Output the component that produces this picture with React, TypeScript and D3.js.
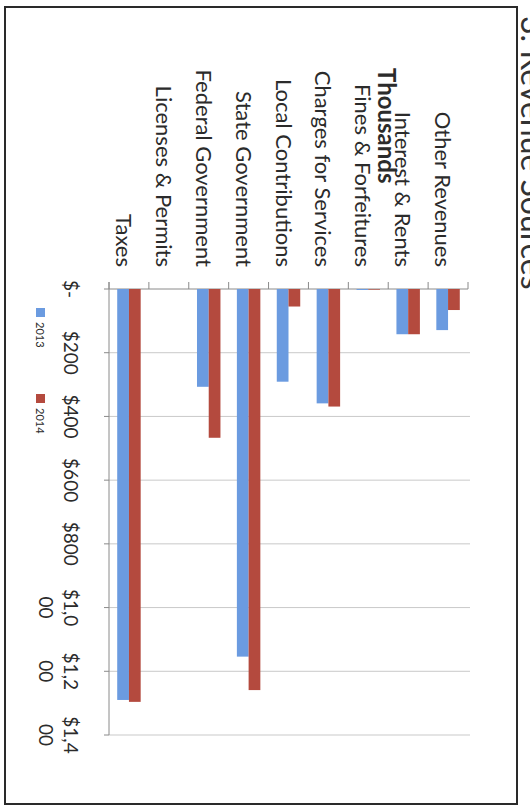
import React from "react";
import * as d3 from "d3";

const categories = [
  "Taxes",
  "Licenses & Permits",
  "Federal Government",
  "State Government",
  "Local Contributions",
  "Charges for Services",
  "Fines & Forfeitures",
  "Interest & Rents",
  "Other Revenues",
];
const series = ["2013", "2014"];
const values2013 = [1290, 0, 307, 1154, 291, 359, 3, 142, 129];
const values2014 = [1296, 0, 467, 1259, 55, 369, 2, 142, 66];
const valueTicks = [0, 200, 400, 600, 800, 1000, 1200, 1400];
const tickLabels = ["$-", "$200", "$400", "$600", "$800", "$1,000", "$1,200", "$1,400"];
const unitLabel = "Thousands";
const titleText = "3. Revenue Sources";

const colors = ["#6b9be0", "#b44a3e"];
const FONT = "Lato, 'Open Sans', sans-serif";

export default function App() {
  const W = 530;
  const H = 807;
  const x0 = 109;
  const x1 = 468;
  const yZero = 289;
  const yMax = 735;

  const x = d3.scaleBand<string>().domain(categories).range([x0, x1]).padding(0);
  const xs = d3
    .scaleBand<string>()
    .domain(series)
    .range([0, x.bandwidth()])
    .paddingInner(0)
    .paddingOuter(0.7);
  const y = d3.scaleLinear().domain([0, 1400]).range([yZero, yMax]);

  const data = [values2013, values2014];
  const boundaries = [...categories.map((c) => x(c) as number), x1];

  return (
    <svg
      width={W}
      height={H}
      style={{ position: "absolute", left: 0, top: 0, background: "#fff" }}
      fontFamily={FONT}
    >
      <rect x={0} y={0} width={W} height={H} fill="#fff" />
      {/* frame */}
      <rect x={5} y={7} width={512} height={797} fill="none" stroke="#2a2a2a" strokeWidth={2} />
      {/* title, cut by the page edge as in the scan */}
      <text transform={`translate(521,16) rotate(90)`} fontSize={32} fill="#333">
        {titleText}
      </text>

      {/* gridlines */}
      {valueTicks.slice(1).map((v) => (
        <line key={"g" + v} x1={x0} x2={x1 + 2} y1={y(v)} y2={y(v)} stroke="#c9c9c9" strokeWidth={1} />
      ))}

      {/* value axis line and ticks */}
      <line x1={x0} x2={x0} y1={yZero - 7} y2={yMax} stroke="#8a8a8a" strokeWidth={1} />
      {valueTicks.map((v) => (
        <line key={"vt" + v} x1={x0 - 5} x2={x0} y1={y(v)} y2={y(v)} stroke="#8a8a8a" strokeWidth={1} />
      ))}

      {/* category axis line and ticks */}
      <line x1={x0} x2={x1} y1={yZero} y2={yZero} stroke="#8a8a8a" strokeWidth={1} />
      {boundaries.map((b, i) => (
        <line key={"ct" + i} x1={b} x2={b} y1={yZero - 7} y2={yZero} stroke="#8a8a8a" strokeWidth={1} />
      ))}

      {/* bars */}
      {series.map((s, si) =>
        categories.map((c, ci) => {
          const v = data[si][ci];
          if (!v) return null;
          return (
            <rect
              key={s + c}
              x={(x(c) as number) + (xs(s) as number)}
              y={y(0)}
              width={xs.bandwidth()}
              height={y(v) - y(0)}
              fill={colors[si]}
            />
          );
        })
      )}

      {/* category labels */}
      {categories.map((c) => {
        const cx = (x(c) as number) + x.bandwidth() / 2;
        return (
          <text
            key={"cl" + c}
            transform={`translate(${cx - 13},${yZero - 22}) rotate(90)`}
            textAnchor="end"
            fontSize={22}
            fill="#2b2b2b"
          >
            {c}
          </text>
        );
      })}

      {/* units label */}
      <text transform={`translate(378,68) rotate(90)`} fontSize={24} fontWeight="bold" fill="#2b2b2b">
        {unitLabel}
      </text>

      {/* value tick labels (wrapped like the original) */}
      {valueTicks.map((v, i) => {
        const lab = tickLabels[i];
        const first = lab.length > 4 ? lab.slice(0, 4) : lab;
        const rest = lab.length > 4 ? lab.slice(4) : "";
        return (
          <g key={"tl" + v}>
            <text
              transform={`translate(64,${y(v)}) rotate(90)`}
              textAnchor="middle"
              fontSize={19}
              fill="#2b2b2b"
            >
              {first}
            </text>
            {rest && (
              <text
                transform={`translate(39,${y(v)}) rotate(90)`}
                textAnchor="middle"
                fontSize={19}
                fill="#2b2b2b"
              >
                {rest}
              </text>
            )}
          </g>
        );
      })}

      {/* legend */}
      {series.map((s, si) => {
        const ly = si === 0 ? 308 : 394;
        return (
          <g key={"lg" + s}>
            <rect x={36} y={ly} width={9} height={9} fill={colors[si]} />
            <text transform={`translate(36,${ly + 14}) rotate(90)`} fontSize={11} fill="#2b2b2b">
              {s}
            </text>
          </g>
        );
      })}
    </svg>
  );
}
